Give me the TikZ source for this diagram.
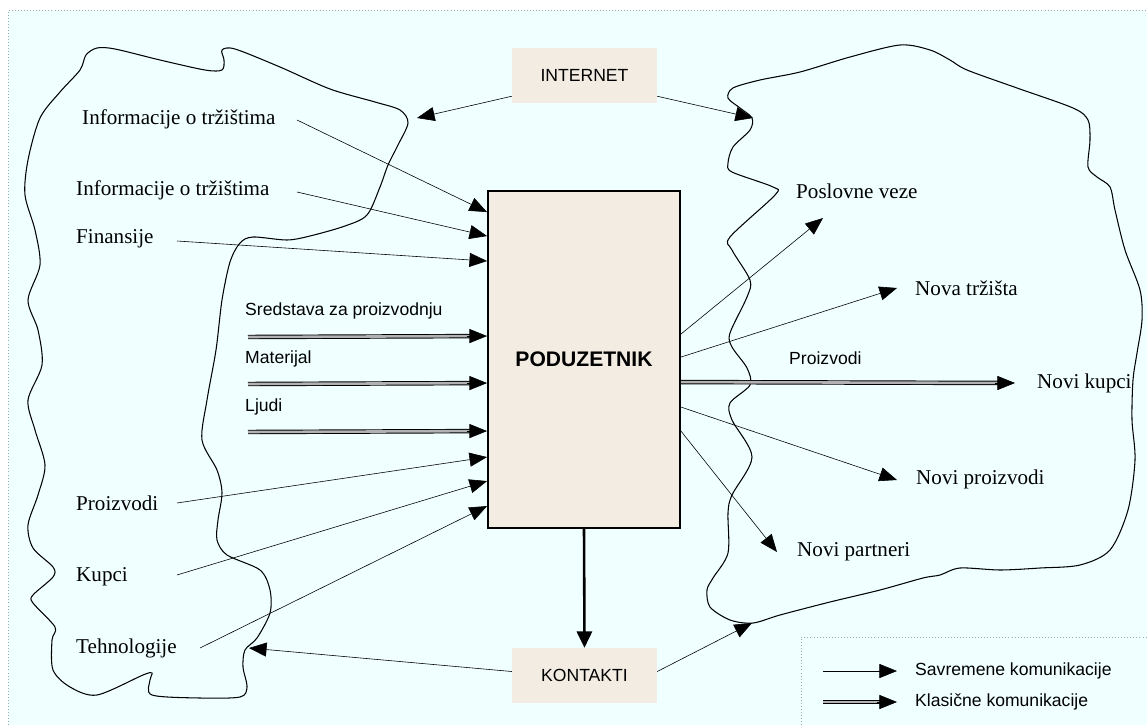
\documentclass[tikz,border=0pt]{standalone}
\usepackage{fontspec}
\setmainfont{Liberation Serif}
\setsansfont{Liberation Sans}
\usepackage{xcolor}
\usepackage{tikz}
\usetikzlibrary{arrows.meta, calc, positioning}

\definecolor{bgazure}{HTML}{F0FFFF}
\definecolor{boxbeige}{HTML}{F2ECE2}

\tikzset{
    frame/.style={draw=gray!70, dotted, line width=0.6pt},
    blob/.style={draw=black, line width=0.9pt},
    lbl/.style={anchor=west, inner sep=0pt, font=\fontsize{18}{20}\selectfont\rmfamily},
    slbl/.style={anchor=west, inner sep=0pt, font=\fontsize{15}{17}\selectfont\sffamily},
    greybox/.style={fill=boxbeige, inner sep=0pt, minimum width=4.35cm, minimum height=1.65cm,
        font=\fontsize{15}{17}\selectfont\sffamily},
    mainbox/.style={draw=black, fill=boxbeige, line width=1.6pt, inner sep=0pt,
        minimum width=5.76cm, minimum height=10.11cm,
        font=\fontsize{18}{20}\selectfont\sffamily\bfseries},
    modern/.style={draw=black, line width=0.5pt, -{Triangle[length=15pt, width=12pt]}},
    classic/.style={draw=black, line width=0.8pt, double=gray!60, double distance=2.2pt,
        shorten >=12pt},
    classictip/.style={draw=black, line width=0.5pt, -{Triangle[length=15pt, width=12pt]}},
    heavy/.style={draw=black, line width=2.2pt, -{Triangle[length=14pt, width=13pt]}}
}

\begin{document}
\begin{tikzpicture}[x=0.03cm, y=-0.03cm]
    \useasboundingbox (0,0) rectangle (1147,725);
    \fill[white] (0,0) rectangle (1147,725);
    \fill[bgazure] (8,10) rectangle (1147,725);
    \draw[frame] (8,725) -- (8,10) -- (1147,10);

    % the two environments
    \draw[blob] plot[smooth cycle] coordinates {
        (40,118) (60,92) (80,70) (86,55) (97,48) (115,49) (160,60) (205,70)
        (222,70) (224,60) (222,50) (235,49) (280,67) (330,89) (375,102) (400,110)
        (408,123) (398,145) (388,165) (380,187) (367,215) (345,226) (310,236)
        (287,240) (253,237) (240,243) (230,262) (222,300) (216,350) (207,400)
        (202,440) (217,470) (222,493) (218,520) (217,540) (227,555) (260,570)
        (270,590) (270,613) (257,638) (245,650) (243,667) (247,687) (240,697)
        (200,698) (152,695) (150,680) (152,673) (143,675) (97,695) (70,687)
        (53,670) (52,640) (55,627) (33,603) (33,595) (53,577) (53,567) (33,548)
        (28,525) (38,495) (45,465) (35,430) (28,400) (42,365) (38,330) (28,300)
        (40,265) (35,230) (25,195) (28,160)};
    \draw[blob] plot[smooth cycle] coordinates {
        (752,118) (740,108) (728,98) (733,88) (760,80) (800,72) (850,57)
        (900,45) (930,50) (950,60) (967,70) (1017,88) (1073,108) (1088,120)
        (1090,140) (1088,167) (1097,177) (1110,187) (1115,210) (1125,250)
        (1140,290) (1142,320) (1137,353) (1133,380) (1132,420) (1135,460)
        (1128,510) (1110,550) (1080,565) (1040,568) (1000,570) (960,568)
        (940,575) (923,578) (880,590) (830,602) (780,615) (753,623) (730,620)
        (710,607) (707,590) (713,578) (728,553) (728,513) (732,495) (752,457)
        (732,420) (730,403) (750,385) (747,368) (732,347) (730,333) (747,297)
        (750,280) (732,250) (730,237) (775,195) (773,187) (732,172) (728,163)
        (733,147) (750,130)};

    % boxes
    \node[mainbox] (pod) at (584,359.5) {PODUZETNIK};
    \node[greybox] (inet) at (584.5,75.5) {INTERNET};
    \node[greybox] (kont) at (584.5,675.5) {KONTAKTI};

    % left labels
    \node[lbl] (infoA) at (82,119) {Informacije o tržištima};
    \node[lbl] (infoB) at (76,190) {Informacije o tržištima};
    \node[lbl] (fin) at (76,239) {Finansije};
    \node[slbl] (sred) at (245,311) {Sredstava za proizvodnju};
    \node[slbl] (mat) at (245,359) {Materijal};
    \node[slbl] (ljud) at (245,407) {Ljudi};
    \node[lbl] (proL) at (76,503) {Proizvodi};
    \node[lbl] (kup) at (76,577) {Kupci};
    \node[lbl] (teh) at (76,648) {Tehnologije};

    % right labels
    \node[lbl] (posl) at (796,191) {Poslovne veze};
    \node[lbl] (nova) at (915,288) {Nova tržišta};
    \node[slbl] (proR) at (789,358) {Proizvodi};
    \node[lbl] (kupR) at (1037,383) {Novi kupci};
    \node[lbl] (npro) at (916,479) {Novi proizvodi};
    \node[lbl] (npar) at (797,552) {Novi partneri};

    % free ends
    \coordinate (infoA-s) at (297,120);
    \coordinate (infoB-s) at (297,192);
    \coordinate (fin-s) at (177,241);
    \coordinate (sred-s) at (248,337);
    \coordinate (mat-s) at (248,384);
    \coordinate (ljud-s) at (248,432);
    \coordinate (proL-s) at (177,503);
    \coordinate (kup-s) at (177,575);
    \coordinate (teh-s) at (200,648);
    \coordinate (sred-t) at ($(pod.north west)+(0,146)$);
    \coordinate (mat-t) at ($(pod.north west)+(0,193)$);
    \coordinate (ljud-t) at ($(pod.north west)+(0,241)$);
    \coordinate (kupR-s) at ($(pod.north east)+(0,192)$);
    \coordinate (posl-t) at (823,218);
    \coordinate (nova-t) at (897,288);
    \coordinate (kupR-t) at (1015,383);
    \coordinate (npro-t) at (897,480);
    \coordinate (npar-t) at (777,552);
    \coordinate (inetL-t) at (417,118);
    \coordinate (inetR-t) at (753,118);
    \coordinate (kontL-t) at (249,648);
    \coordinate (kontR-t) at (752,623);

    % inputs
    \draw[modern] (infoA-s) -- ($(pod.north west)+(0,22)$);
    \draw[modern] (infoB-s) -- ($(pod.north west)+(0,46)$);
    \draw[modern] (fin-s) -- ($(pod.north west)+(0,71)$);
    \draw[classic] (sred-s) -- (sred-t);
    \draw[classictip] ($(sred-t)+(-20,0)$) -- (sred-t);
    \draw[classic] (mat-s) -- (mat-t);
    \draw[classictip] ($(mat-t)+(-20,0)$) -- (mat-t);
    \draw[classic] (ljud-s) -- (ljud-t);
    \draw[classictip] ($(ljud-t)+(-20,0)$) -- (ljud-t);
    \draw[modern] (proL-s) -- ($(pod.north west)+(0,267)$);
    \draw[modern] (kup-s) -- ($(pod.north west)+(0,291)$);
    \draw[modern] (teh-s) -- ($(pod.north west)+(0,316)$);

    % outputs
    \draw[modern] ($(pod.north east)+(0,144)$) -- (posl-t);
    \draw[modern] ($(pod.north east)+(0,167)$) -- (nova-t);
    \draw[classic] (kupR-s) -- (kupR-t);
    \draw[classictip] ($(kupR-t)+(-20,0)$) -- (kupR-t);
    \draw[modern] ($(pod.north east)+(0,217)$) -- (npro-t);
    \draw[modern] ($(pod.north east)+(0,241)$) -- (npar-t);

    % internet and contacts
    \draw[modern] ($(inet.south west)+(0,-7)$) -- (inetL-t);
    \draw[modern] ($(inet.south east)+(0,-7)$) -- (inetR-t);
    \draw[heavy] (pod.south) -- (kont.north);
    \draw[modern] ($(kont.west)+(0,-4)$) -- (kontL-t);
    \draw[modern] ($(kont.east)+(0,-4)$) -- (kontR-t);

    % legend
    \draw[frame] (801,725) -- (801,637) -- (1147,637);
    \coordinate (legA-s) at (823,671);
    \coordinate (legA-t) at (897,671);
    \coordinate (legB-s) at (823,702);
    \coordinate (legB-t) at (897,702);
    \draw[modern] (legA-s) -- (legA-t);
    \draw[classic] (legB-s) -- (legB-t);
    \draw[classictip] ($(legB-t)+(-20,0)$) -- (legB-t);
    \node[slbl] (legA) at (915,671) {Savremene komunikacije};
    \node[slbl] (legB) at (915,702) {Klasične komunikacije};
\end{tikzpicture}
\end{document}
